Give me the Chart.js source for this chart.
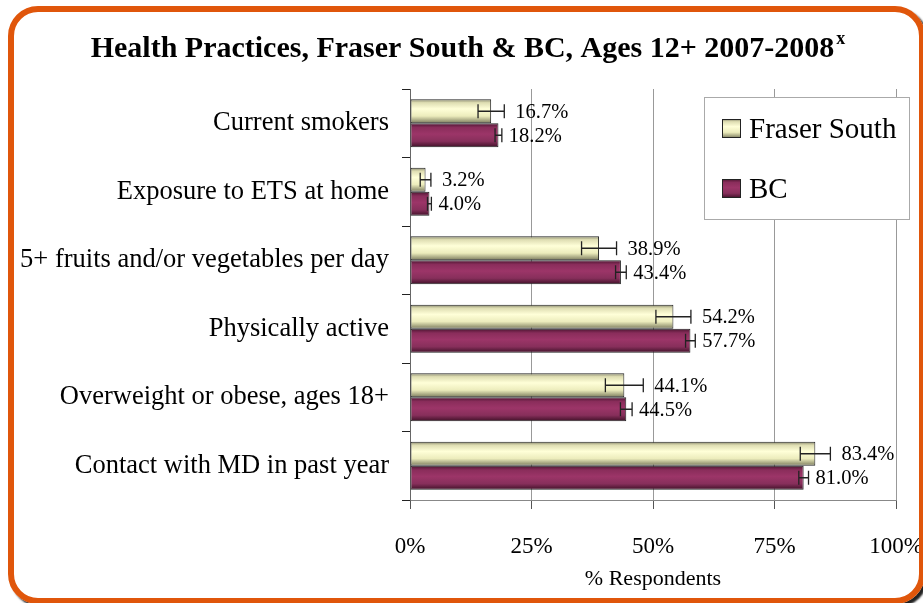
<!DOCTYPE html>
<html>
<head>
<meta charset="utf-8">
<title>Health Practices, Fraser South &amp; BC</title>
<script src="https://cdn.jsdelivr.net/npm/chart.js@4.4.0/dist/chart.umd.min.js"></script>
<style>
  html, body { margin: 0; padding: 0; background: #fff; }
  #wrap { position: absolute; left: 0; top: 0; width: 923px; height: 603px; }
  #frame {
    position: absolute; left: 8px; top: 6px; width: 917px; height: 598px;
    box-sizing: border-box; border: 6px solid #e0560b; border-radius: 30px;
    box-shadow: 3px 3px 2px #222; pointer-events: none;
  }
</style>
</head>
<body>
<div id="wrap"><canvas id="chart"></canvas></div>
<div id="frame"></div>
<script>
const categories = [
    "Current smokers",
    "Exposure to ETS at home",
    "5+ fruits and/or vegetables per day",
    "Physically active",
    "Overweight or obese, ages 18+",
    "Contact with MD in past year"
];
const fraserSouth = [16.7, 3.2, 38.9, 54.2, 44.1, 83.4];
const bc = [18.2, 4.0, 43.4, 57.7, 44.5, 81.0];
// half-width of the 95% confidence interval, in percentage points
const fraserSouthCI = [2.7, 1.1, 3.6, 3.6, 3.9, 3.1];
const bcCI = [0.7, 0.4, 1.1, 1.0, 1.2, 1.0];
const tickLabels = ["0%", "25%", "50%", "75%", "100%"];

const SERIF = "'Liberation Serif', 'Times New Roman', serif";
const CAT_PCT = 0.7;

Chart.defaults.font.family = SERIF;
Chart.defaults.color = "#000";

const fsStops = [[0, "#85856a"], [0.14, "#deddb2"], [0.4, "#ffffd8"], [0.7, "#ececbc"], [1, "#7a7a5c"]];
const bcStops = [[0, "#4a1530"], [0.18, "#8a2d5b"], [0.45, "#9c3568"], [0.75, "#872f5b"], [1, "#3e1027"]];

function barGradient(stops, fallback) {
    return (ctx) => {
        const y = ctx.chart.scales && ctx.chart.scales.y;
        if (ctx.type !== "data" || !y) return fallback;
        const catH = y.getPixelForValue(1) - y.getPixelForValue(0);
        const half = catH * CAT_PCT / 2;
        const top = y.getPixelForValue(ctx.dataIndex) - half + ctx.datasetIndex * half;
        if (!isFinite(top) || !isFinite(half) || half <= 0) return fallback;
        const g = ctx.chart.ctx.createLinearGradient(0, top, 0, top + half);
        stops.forEach(s => g.addColorStop(s[0], s[1]));
        return g;
    };
}

// title with a superscript, drawn above the chart area
const titlePlugin = {
    id: "supTitle",
    afterDraw(chart) {
        const c = chart.ctx;
        const main = "Health Practices, Fraser South & BC, Ages 12+ 2007-2008";
        const sup = "x";
        c.save();
        c.font = "bold 30px " + SERIF;
        const w1 = c.measureText(main).width;
        c.font = "bold 18px " + SERIF;
        const w2 = c.measureText(sup).width;
        const x0 = 468 - (w1 + w2 + 2) / 2;
        c.fillStyle = "#000";
        c.textBaseline = "alphabetic";
        c.font = "bold 30px " + SERIF;
        c.fillText(main, x0, 57);
        c.font = "bold 18px " + SERIF;
        c.fillText(sup, x0 + w1 + 2, 44);
        c.restore();
    }
};

// confidence-interval whiskers and value labels
const errorBarPlugin = {
    id: "errorBars",
    afterDatasetsDraw(chart, args, opts) {
        const c = chart.ctx;
        const x = chart.scales.x;
        chart.data.datasets.forEach((ds, di) => {
            const meta = chart.getDatasetMeta(di);
            meta.data.forEach((bar, i) => {
                const v = ds.data[i];
                const e = ds.ci[i];
                const lo = x.getPixelForValue(v - e);
                const hi = x.getPixelForValue(v + e);
                c.save();
                c.strokeStyle = "#222";
                c.lineWidth = 1.3;
                c.beginPath();
                c.moveTo(lo, bar.y); c.lineTo(hi, bar.y);
                c.moveTo(lo, bar.y - 7); c.lineTo(lo, bar.y + 7);
                c.moveTo(hi, bar.y - 7); c.lineTo(hi, bar.y + 7);
                c.stroke();
                c.fillStyle = "#000";
                c.font = "20.5px " + SERIF;
                c.textBaseline = "middle";
                c.textAlign = "left";
                c.fillText(v.toFixed(1) + "%", hi + opts.gap[di], bar.y + 1);
                c.restore();
            });
        });
    }
};

// boxed legend inside the plot area
const legendBoxPlugin = {
    id: "legendBox",
    afterDraw(chart) {
        const c = chart.ctx;
        const a = chart.chartArea;
        const left = a.right - 192, top = a.top + 8, w = 205, h = 122;
        c.save();
        c.fillStyle = "#fff";
        c.fillRect(left, top, w, h);
        c.strokeStyle = "#aaa";
        c.lineWidth = 1;
        c.strokeRect(left + 0.5, top + 0.5, w, h);
        chart.data.datasets.forEach((ds, di) => {
            const sy = top + 22 + di * 60;
            const sx = left + 18;
            const g = c.createLinearGradient(0, sy, 0, sy + 19);
            ds.stops.forEach(s => g.addColorStop(s[0], s[1]));
            c.fillStyle = g;
            c.fillRect(sx, sy, 19, 19);
            c.strokeStyle = "#222";
            c.strokeRect(sx + 0.5, sy + 0.5, 18, 18);
            c.fillStyle = "#000";
            c.font = "29px " + SERIF;
            c.textBaseline = "alphabetic";
            c.fillText(ds.label, sx + 27, sy + 19);
        });
        c.restore();
    }
};

const chart = new Chart(document.getElementById("chart"), {
    type: "bar",
    data: {
        labels: categories,
        datasets: [
            {
                label: "Fraser South",
                data: fraserSouth,
                ci: fraserSouthCI,
                stops: fsStops,
                backgroundColor: barGradient(fsStops, "#ffffcc"),
                borderColor: "#222",
                borderWidth: 1,
                borderSkipped: false
            },
            {
                label: "BC",
                data: bc,
                ci: bcCI,
                stops: bcStops,
                backgroundColor: barGradient(bcStops, "#993366"),
                borderColor: "#222",
                borderWidth: 1,
                borderSkipped: false
            }
        ]
    },
    plugins: [titlePlugin, errorBarPlugin, legendBoxPlugin],
    options: {
        indexAxis: "y",
        responsive: true,
        maintainAspectRatio: false,
        animation: false,
        events: [],
        categoryPercentage: CAT_PCT,
        barPercentage: 1.0,
        layout: { padding: { top: 89, right: 27, left: 0, bottom: 0 } },
        plugins: {
            legend: { display: false },
            tooltip: { enabled: false },
            errorBars: { gap: [11, 7] }
        },
        scales: {
            x: {
                min: 0,
                max: 100,
                ticks: {
                    stepSize: 25,
                    padding: 24,
                    color: "#000",
                    font: { family: SERIF, size: 23 },
                    callback: (v, i) => tickLabels[i]
                },
                grid: { color: "#999", tickColor: "#555", tickLength: 9, lineWidth: 1 },
                border: { color: "#888" },
                title: {
                    display: true,
                    text: "% Respondents",
                    color: "#000",
                    font: { family: SERIF, size: 22, weight: "normal" },
                    padding: { top: 0, bottom: 11 }
                },
                afterFit: (s) => { s.height = 103; s.paddingLeft = 0; s.paddingRight = 0; }
            },
            y: {
                ticks: {
                    padding: 13,
                    color: "#000",
                    font: { family: SERIF, size: 26.5 }
                },
                grid: { drawOnChartArea: false, tickColor: "#222", tickLength: 8 },
                border: { color: "#666" },
                afterFit: (s) => { s.width = 410; }
            }
        }
    }
});
// gradients depend on the final bar positions, so resolve them once more
chart.update("none");
</script>
</body>
</html>
